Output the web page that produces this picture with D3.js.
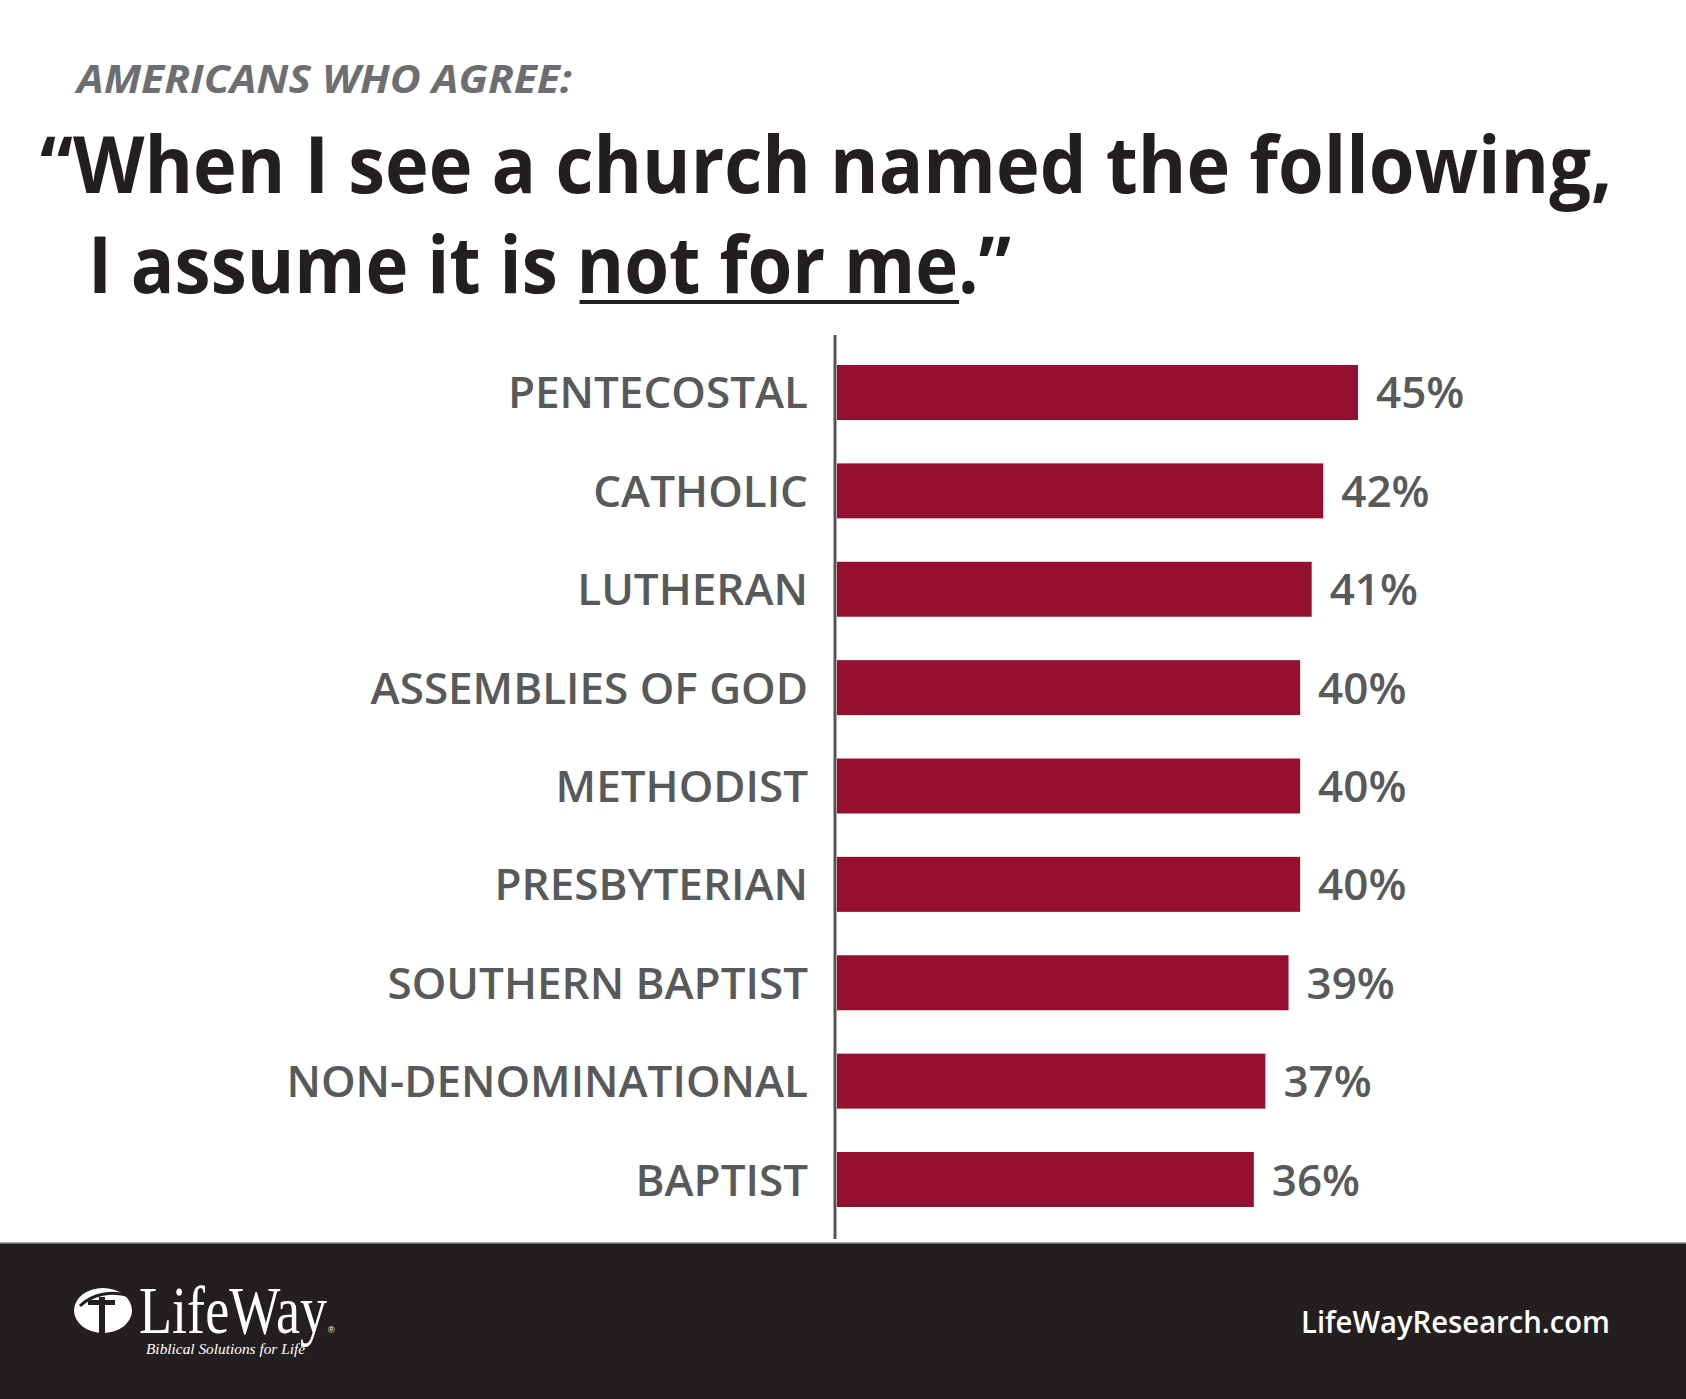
<!DOCTYPE html>
<html>
<head>
<meta charset="utf-8">
<script src="https://cdn.jsdelivr.net/npm/d3@7"></script>
<style>
  body { margin: 0; background: #fff; }
  svg { display: block; }
</style>
</head>
<body>
<div id="chart"></div>
<script>
// data
const categories = ["PENTECOSTAL", "CATHOLIC", "LUTHERAN", "ASSEMBLIES OF GOD", "METHODIST",
  "PRESBYTERIAN", "SOUTHERN BAPTIST", "NON-DENOMINATIONAL", "BAPTIST"];
const values = [45, 42, 41, 40, 40, 40, 39, 37, 36];

const kicker = "AMERICANS WHO AGREE:";
const titleLine1 = "\u201CWhen I see a church named the following,";
const titleLine2a = "I assume it is ";
const titleLine2b = "not for me";
const titleLine2c = ".\u201D";
const footerUrl = "LifeWayResearch.com";

// layout
const W = 1686, H = 1399;
const axisX = 835;
const barStart = 837;
const footerTop = 1243;
const barColor = "#95102f";
const labelColor = "#58595b";

const svg = d3.select("#chart").append("svg")
  .attr("width", W).attr("height", H)
  .attr("viewBox", `0 0 ${W} ${H}`);

svg.append("rect").attr("width", W).attr("height", H).attr("fill", "#fff");

// --- titles ---
svg.append("text")
  .attr("x", 77).attr("y", 93)
  .attr("textLength", 495).attr("lengthAdjust", "spacingAndGlyphs")
  .style("font-family", "'Open Sans', sans-serif")
  .style("font-weight", 700).style("font-style", "italic")
  .style("font-size", "39px")
  .attr("fill", "#6d6e71")
  .text(kicker);

svg.append("text")
  .attr("x", 40).attr("y", 193)
  .attr("textLength", 1572).attr("lengthAdjust", "spacingAndGlyphs")
  .style("font-family", "'Open Sans', sans-serif")
  .style("font-weight", 700).style("font-size", "78px")
  .attr("fill", "#231f20")
  .text(titleLine1);

const t2 = svg.append("text")
  .attr("x", 88).attr("y", 293)
  .attr("textLength", 923).attr("lengthAdjust", "spacingAndGlyphs")
  .style("font-family", "'Open Sans', sans-serif")
  .style("font-weight", 700).style("font-size", "78px")
  .attr("fill", "#231f20")
  .text(titleLine2a + titleLine2b + titleLine2c);

// underline under "not for me"
const tn = t2.node();
const i0 = titleLine2a.length, i1 = i0 + titleLine2b.length - 1;
const u0 = tn.getStartPositionOfChar(i0).x;
const u1 = tn.getEndPositionOfChar(i1).x;
svg.append("rect")
  .attr("x", u0 + 3).attr("y", 300)
  .attr("width", u1 - u0 - 2).attr("height", 4)
  .attr("fill", "#231f20");

// --- bar chart ---
const x = d3.scaleLinear().domain([0, 45]).range([barStart, 1358]);
const y = d3.scaleBand().domain(categories).range([365, 1207])
  .paddingInner(0.441).paddingOuter(0);

const rows = categories.map((c, i) => ({cat: c, value: values[i]}));

svg.selectAll(".bar").data(rows).enter().append("rect")
  .attr("class", "bar")
  .attr("x", x(0))
  .attr("y", d => y(d.cat))
  .attr("width", d => x(d.value) - x(0))
  .attr("height", y.bandwidth())
  .attr("fill", barColor);

// category labels
svg.selectAll(".cat").data(rows).enter().append("text")
  .attr("class", "cat")
  .attr("x", 808)
  .attr("y", d => y(d.cat) + y.bandwidth() / 2 + 16)
  .attr("text-anchor", "end")
  .style("font-family", "'Open Sans', sans-serif")
  .style("font-weight", 600).style("font-size", "44px")
  .attr("fill", labelColor)
  .text(d => d.cat);

// value labels
svg.selectAll(".val").data(rows).enter().append("text")
  .attr("class", "val")
  .attr("x", d => x(d.value) + 18)
  .attr("y", d => y(d.cat) + y.bandwidth() / 2 + 16)
  .style("font-family", "'Open Sans', sans-serif")
  .style("font-weight", 600).style("font-size", "44px")
  .attr("fill", labelColor)
  .text(d => d.value + "%");

// vertical axis line
svg.append("line")
  .attr("x1", axisX).attr("x2", axisX)
  .attr("y1", 335).attr("y2", 1239)
  .attr("stroke", "#555")
  .attr("stroke-width", 3);

// --- footer ---
svg.append("rect")
  .attr("x", 0).attr("y", footerTop)
  .attr("width", W).attr("height", H - footerTop)
  .attr("fill", "#231f20");
svg.append("line")
  .attr("x1", 0).attr("x2", W)
  .attr("y1", footerTop).attr("y2", footerTop)
  .attr("stroke", "#8a8a8a").attr("stroke-width", 1.5);

// logo mark
const logo = svg.append("g");
logo.append("ellipse")
  .attr("cx", 103).attr("cy", 1310.5)
  .attr("rx", 29).attr("ry", 22.5)
  .attr("fill", "#fff");
logo.append("rect").attr("x", 99).attr("y", 1297).attr("width", 6).attr("height", 37).attr("fill", "#231f20");
logo.append("rect").attr("x", 88).attr("y", 1300).attr("width", 27).attr("height", 5).attr("fill", "#231f20");
logo.append("path")
  .attr("d", "M80,1306 C92,1294 112,1290 130,1296")
  .attr("fill", "none").attr("stroke", "#231f20").attr("stroke-width", 3);

svg.append("text")
  .attr("x", 139).attr("y", 1333)
  .attr("textLength", 188).attr("lengthAdjust", "spacingAndGlyphs")
  .style("font-family", "'Liberation Serif', serif")
  .style("font-size", "68px")
  .attr("fill", "#fff")
  .text("LifeWay");
svg.append("text")
  .attr("x", 328).attr("y", 1333)
  .style("font-family", "'Liberation Sans', sans-serif")
  .style("font-size", "9px")
  .attr("fill", "#fff")
  .text("\u00AE");
svg.append("text")
  .attr("x", 146).attr("y", 1354)
  .attr("textLength", 159).attr("lengthAdjust", "spacingAndGlyphs")
  .style("font-family", "'Liberation Serif', serif")
  .style("font-style", "italic").style("font-size", "15px")
  .attr("fill", "#fff")
  .text("Biblical Solutions for Life");

svg.append("text")
  .attr("x", 1301).attr("y", 1333)
  .attr("textLength", 309).attr("lengthAdjust", "spacingAndGlyphs")
  .style("font-family", "'Open Sans', sans-serif")
  .style("font-weight", 600).style("font-size", "30px")
  .attr("fill", "#fff")
  .text(footerUrl);
</script>
</body>
</html>
